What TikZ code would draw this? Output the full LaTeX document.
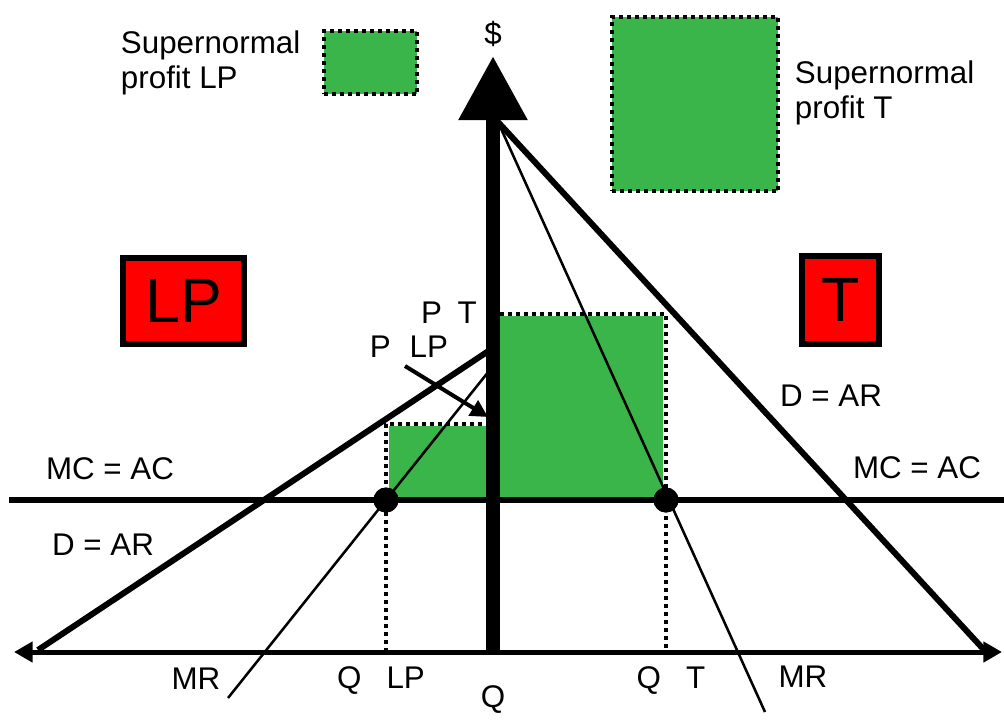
\documentclass[tikz,border=0pt]{standalone}
\usepackage{fontspec}
\setmainfont{Liberation Sans}
\usetikzlibrary{positioning,arrows.meta}
\definecolor{profitgreen}{RGB}{57,181,74}

\begin{document}
\begin{tikzpicture}[
  x=0.75pt, y=-0.75pt,
  font=\fontsize{23.5}{26.25}\selectfont,
  >={Triangle[length=14pt,width=15pt]},
  txt/.style={inner sep=0pt},
  note/.style={inner sep=0pt, align=left},
  dots/.style={line width=2.8pt, dash pattern=on 3pt off 3pt},
  key/.style={draw, dots, fill=profitgreen, inner sep=0pt},
  tag/.style={draw, line width=4.5pt, fill=red, inner sep=0pt, font=\fontsize{47}{47}\selectfont},
  curve/.style={line width=4.5pt},
  marginal/.style={line width=1.9pt},
  eq/.style={circle, fill, inner sep=0pt, minimum size=18.75pt},
]
  \useasboundingbox (0,0) rectangle (1004,726);

  \node[key, minimum width=70pt, minimum height=47.5pt] (keyLP) at (370.5,62.5) {};
  \node[note, left=16pt of keyLP] (noteLP) {Supernormal\\profit LP};
  \node[key, minimum width=124.75pt, minimum height=130.75pt] (keyT) at (695,104) {};
  \node[note, right=11pt of keyT, yshift=8pt] (noteT) {Supernormal\\profit T};

  \node[tag, minimum width=90.5pt, minimum height=64.5pt] (tagLP) at (183.5,301) {LP};
  \node[tag, minimum width=57.75pt, minimum height=66pt] (tagT) at (840.5,300) {T};

  \coordinate (O) at (493,654);
  \coordinate (ytop) at (493,56);
  \coordinate (xl) at (14,652);
  \coordinate (xr) at (1002,652);
  \coordinate (ml) at (9,500);
  \coordinate (mr) at (1004,500);
  \coordinate (aT) at (498,122);
  \coordinate (dT) at (986,652);
  \coordinate (mT) at (765,712);
  \coordinate (aLP) at (493,348);
  \coordinate (dLP) at (38,650);
  \coordinate (bLP) at (493,366);
  \coordinate (mLP) at (228,698);
  \coordinate (ptail) at (405,366);
  \coordinate (phead) at (488,417);

  \fill[profitgreen] (389,426) rectangle (490,497);
  \fill[profitgreen] (500,316) rectangle (663,497);

  \node[eq] (dotLP) at (386,500) {};
  \node[eq] (dotT) at (666,500) {};

  \draw[dots] (490,424) -- (386,424) -- (dotLP.center |- xl);
  \draw[dots] (500,314) -- (666,314) -- (dotT.center |- xr);

  \draw[line width=4.5pt] (ml) -- (mr);
  \draw[<->, line width=3.75pt] (xl) -- (xr);

  \draw[curve] (aT) -- (dT);
  \draw[marginal] (aT) -- (mT);
  \draw[curve] (aLP) -- (dLP);
  \draw[marginal] (bLP) -- (mLP);

  \draw[-{Triangle[length=48pt,width=49pt]}, line width=10.5pt] (O) -- (ytop);
  \node[eq] at (dotLP) {};
  \node[eq] at (dotT) {};

  \draw[-{Triangle[length=13pt,width=13pt]}, line width=3pt] (ptail) -- (phead);

  \node[txt] (dollar) at (493,34) {\$};
  \node[txt] (priceT) at (449,313) {P\hspace{0.5em}T};
  \node[txt] (priceLP) at (409,347) {P\hspace{0.6em}LP};
  \node[txt] (mcL) at (110,469) {MC = AC};
  \node[txt] (mcR) at (917,468) {MC = AC};
  \node[txt] (arL) at (103,545) {D = AR};
  \node[txt] (arR) at (831,396) {D = AR};
  \node[txt] (mrL) at (196,679) {MR};
  \node[txt] (mrR) at (803,677) {MR};
  \node[txt] (qLP) at (381,681) {Q\hspace{0.8em}LP};
  \node[txt] (q) at (493,700) {Q};
  \node[txt] (qT) at (671,681) {Q\hspace{0.8em}T};
\end{tikzpicture}
\end{document}
